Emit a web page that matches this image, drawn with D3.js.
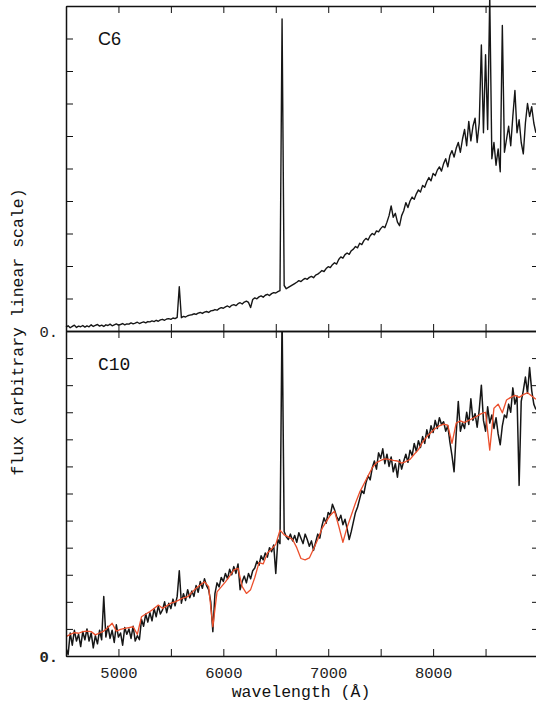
<!DOCTYPE html>
<html>
<head>
<meta charset="utf-8">
<script src="https://cdn.jsdelivr.net/npm/d3@7"></script>
<style>
  html, body { margin: 0; padding: 0; background: #fff; }
  svg { display: block; }
  .axis text { font-family: "Liberation Mono", "DejaVu Sans Mono", monospace; font-size: 15.5px; fill: #222; }
  .axis path, .axis line { stroke: #111; }
</style>
</head>
<body>
<svg id="chart" width="536" height="708"></svg>
<script>
// ---------------- DATA ----------------
// Spectra sampled on a regular wavelength grid (Angstrom)
const specStart = 4500;
const specStep = 20;      // black observed spectra
const modelStep = 40;     // red model spectrum

// C6 observed spectrum (top panel, arbitrary flux units)
const c6Flux = [
  0.12,0.16,0.10,0.14,0.18,0.11,0.15,0.13,0.17,0.12,
  0.16,0.13,0.19,0.14,0.17,0.20,0.15,0.18,0.14,0.19,
  0.17,0.21,0.16,0.19,0.22,0.18,0.20,0.23,0.19,0.22,
  0.21,0.25,0.22,0.24,0.27,0.23,0.26,0.28,0.25,0.29,
  0.28,0.31,0.29,0.33,0.30,0.34,0.36,0.33,0.37,0.38,
  0.36,0.40,0.38,0.42,1.36,0.41,0.45,0.43,0.47,0.49,
  0.50,0.53,0.51,0.55,0.57,0.54,0.58,0.60,0.57,0.62,
  0.63,0.66,0.64,0.69,0.72,0.70,0.74,0.77,0.73,0.79,
  0.81,0.78,0.84,0.87,0.83,0.89,0.92,0.88,0.72,0.97,
  1.02,0.99,1.05,1.08,1.04,1.10,1.13,1.09,1.15,1.18,
  1.17,1.21,1.24,9.60,1.40,1.30,1.34,1.38,1.42,1.46,
  1.50,1.55,1.52,1.58,1.62,1.59,1.65,1.68,1.64,1.72,
  1.75,1.80,1.86,1.83,1.92,1.98,1.95,2.04,2.10,2.06,
  2.20,2.28,2.24,2.35,2.40,2.36,2.47,2.52,2.60,2.56,
  2.70,2.66,2.78,2.85,2.80,2.93,3.00,2.96,3.08,3.05,
  3.15,3.22,3.18,3.35,3.55,3.85,3.50,3.62,3.35,3.24,
  3.55,3.70,3.95,3.80,4.00,4.12,4.05,4.22,4.34,4.28,
  4.48,4.42,4.60,4.72,4.62,4.85,4.78,4.95,5.05,4.92,
  5.15,5.30,5.05,5.40,5.55,5.35,5.62,5.80,5.50,5.90,
  6.20,5.70,6.45,5.85,6.30,6.55,5.80,6.40,8.80,6.10,
  8.50,6.20,10.3,5.30,5.80,5.10,5.60,4.90,9.40,5.50,
  5.90,6.30,5.70,6.60,7.40,6.10,6.50,5.80,5.45,6.40,
  7.00,6.60,6.90,6.40,6.10
];

// C10 observed spectrum (bottom panel, black)
const c10Flux = [
  0.30,0.05,0.85,0.40,0.95,0.55,0.80,0.35,0.90,0.60,
  1.00,0.55,0.85,0.30,0.75,0.45,0.95,0.60,2.20,0.70,
  1.10,0.65,0.95,0.50,1.15,0.70,0.85,0.40,1.05,0.80,
  1.00,0.65,1.10,0.55,0.75,0.60,1.35,1.10,1.55,1.25,
  1.60,1.30,1.75,1.45,1.85,1.55,1.70,2.00,1.60,1.95,
  1.75,2.10,1.85,2.20,3.15,1.95,2.30,2.05,2.45,2.15,
  2.40,2.20,2.60,2.35,2.75,2.50,2.85,2.60,2.45,2.00,
  0.90,2.30,2.70,2.55,2.90,2.75,3.05,2.85,3.20,3.00,
  3.30,3.05,3.40,2.45,2.75,2.95,2.70,3.05,2.85,3.15,
  3.25,3.50,3.35,3.70,3.55,3.80,3.65,4.00,3.85,4.10,
  3.05,4.30,4.15,12.6,4.60,4.40,4.30,4.50,4.25,4.45,
  4.20,4.55,4.35,4.15,4.50,4.30,4.05,4.25,3.90,4.20,
  4.50,4.35,4.80,5.10,4.90,5.30,5.20,5.60,5.40,5.15,
  5.00,5.20,4.85,5.05,4.70,4.30,4.60,4.95,5.30,5.50,
  5.80,6.10,6.00,6.40,6.65,6.50,6.95,7.20,6.90,7.50,
  7.30,7.65,7.10,7.45,7.00,7.35,6.80,7.10,6.60,7.25,
  6.90,7.20,7.45,7.15,7.60,7.40,7.85,7.55,7.95,7.70,
  8.10,7.85,8.35,8.05,8.50,8.25,8.70,8.40,8.80,8.55,
  8.65,8.30,8.50,7.90,7.40,6.80,8.20,9.40,8.30,8.60,
  8.40,9.00,8.55,9.50,8.70,8.95,8.45,9.10,10.0,8.70,
  8.30,9.20,8.60,8.90,8.40,8.80,8.20,7.80,8.50,8.90,
  8.80,9.30,9.00,9.90,9.30,9.60,6.30,9.40,9.80,10.30,
  9.70,10.65,9.80,9.30,9.10
];

// C10 model spectrum (bottom panel, red)
const c10Model = [
  0.71,0.80,0.86,0.84,0.90,0.92,0.90,0.78,0.85,0.92,
  1.05,1.21,0.92,0.98,1.02,1.05,1.08,0.80,1.45,1.55,
  1.64,1.75,1.88,1.76,1.85,1.95,2.00,2.07,2.15,2.19,
  2.35,2.50,2.62,2.74,2.56,1.08,2.37,2.55,2.74,2.95,
  3.18,3.24,2.56,2.31,2.45,2.90,3.45,3.40,3.80,3.95,
  4.12,4.65,4.47,4.40,4.30,4.00,3.60,3.55,3.62,3.95,
  4.30,4.70,4.95,5.20,5.35,4.80,4.20,4.75,5.20,5.65,
  6.05,6.35,6.65,6.95,7.14,7.22,7.28,7.26,7.22,7.20,
  7.12,7.18,7.26,7.45,7.62,7.90,8.10,8.25,8.40,8.50,
  8.56,8.52,7.85,8.60,8.68,8.62,8.70,8.78,8.86,8.95,
  9.00,7.60,9.15,9.30,8.98,9.45,9.55,9.62,9.55,9.65,
  9.72,9.60,9.48
];

// Axis settings
const xDomain = [4500, 9000];
const xTicks = [4500, 5000, 5500, 6000, 6500, 7000, 7500, 8000, 8500, 9000];
const topYMax = 10;     // top panel: 10 tick intervals
const botYMax = 12;     // bottom panel: 12 tick intervals
const panelLabels = ["C6", "C10"];
const xTitle = "wavelength (Å)";
const yTitle = "flux (arbitrary linear scale)";

// ---------------- LAYOUT ----------------
const svg = d3.select("#chart");
const left = 66, right = 538;
const topY0 = 6, midY = 331, botY = 656;

const x = d3.scaleLinear().domain(xDomain).range([left, right]);
const yTop = d3.scaleLinear().domain([0, topYMax]).range([midY, topY0]);
const yBot = d3.scaleLinear().domain([0, botYMax]).range([botY, midY]);

const toPts = (arr, step) => arr.map((v, i) => [specStart + i * step, v]);

// clip for bottom panel
svg.append("defs").append("clipPath").attr("id", "clipBot")
  .append("rect").attr("x", left).attr("y", midY).attr("width", right - left).attr("height", botY - midY);

const lineTop = d3.line().x(d => x(d[0])).y(d => yTop(d[1]));
const lineBot = d3.line().x(d => x(d[0])).y(d => yBot(d[1]));

// spectra
svg.append("path").datum(toPts(c6Flux, specStep))
  .attr("d", lineTop).attr("fill", "none").attr("stroke", "#161616")
  .attr("stroke-width", 1.4).attr("stroke-linejoin", "round");

const gBot = svg.append("g").attr("clip-path", "url(#clipBot)");
gBot.append("path").datum(toPts(c10Flux, specStep))
  .attr("d", lineBot).attr("fill", "none").attr("stroke", "#161616")
  .attr("stroke-width", 1.5).attr("stroke-linejoin", "round");
gBot.append("path").datum(toPts(c10Model, modelStep))
  .attr("d", lineBot).attr("fill", "none").attr("stroke", "#ec4f2c")
  .attr("stroke-width", 1.3).attr("stroke-linejoin", "round");

// ---------------- AXES ----------------
const tick = 7;
function styleAxis(g) {
  g.attr("class", "axis");
  g.selectAll("path.domain").attr("stroke", "#111").attr("stroke-width", 1.5);
  g.selectAll(".tick line").attr("stroke", "#111").attr("stroke-width", 1);
}
// bottom x axis with labels
svg.append("g").attr("transform", `translate(0,${botY})`)
  .call(d3.axisBottom(x).tickValues(xTicks).tickSizeInner(-tick).tickSizeOuter(0).tickPadding(11)
    .tickFormat(d => (d % 1000 === 0 && d > 4500 && d < 9000) ? d : ""))
  .call(styleAxis);
// middle line: ticks up (top panel) and down (bottom panel)
svg.append("g").attr("transform", `translate(0,${midY})`)
  .call(d3.axisBottom(x).tickValues(xTicks).tickSizeInner(-tick).tickSizeOuter(0).tickFormat(""))
  .call(styleAxis);
svg.append("g").attr("transform", `translate(0,${midY})`)
  .call(d3.axisTop(x).tickValues(xTicks).tickSizeInner(-tick).tickSizeOuter(0).tickFormat(""))
  .call(styleAxis);
// top border
svg.append("g").attr("transform", `translate(0,${topY0})`)
  .call(d3.axisTop(x).tickValues(xTicks).tickSizeInner(-tick).tickSizeOuter(0).tickFormat(""))
  .call(styleAxis);

// left y axes
svg.append("g").attr("transform", `translate(${left},0)`)
  .call(d3.axisLeft(yTop).ticks(topYMax).tickSizeInner(-tick).tickSizeOuter(0).tickPadding(8)
    .tickFormat(d => d === 0 ? "0." : ""))
  .call(styleAxis);
const leftBot = svg.append("g").attr("transform", `translate(${left},0)`)
  .call(d3.axisLeft(yBot).ticks(botYMax).tickSizeInner(-tick).tickSizeOuter(0).tickPadding(8)
    .tickFormat(d => d === 0 ? "0." : ""))
  .call(styleAxis);
// right y axes
svg.append("g").attr("transform", `translate(${right},0)`)
  .call(d3.axisRight(yTop).ticks(topYMax).tickSizeInner(-6).tickSizeOuter(0).tickFormat(""))
  .call(styleAxis);
svg.append("g").attr("transform", `translate(${right},0)`)
  .call(d3.axisRight(yBot).ticks(botYMax).tickSizeInner(-6).tickSizeOuter(0).tickFormat(""))
  .call(styleAxis);

svg.selectAll(".axis .tick text").filter(function() { return this.textContent === "0."; })
  .attr("font-size", "16.5px").attr("dy", "0.35em");
leftBot.selectAll(".tick text").attr("font-weight", "bold");

// ---------------- LABELS ----------------
svg.append("text").attr("x", 98).attr("y", 45)
  .attr("font-family", "Liberation Sans, Arial, sans-serif").attr("font-size", 18).attr("fill", "#111")
  .text(panelLabels[0]);
svg.append("text").attr("x", 98).attr("y", 370)
  .attr("font-family", "Liberation Mono, monospace").attr("font-size", 18).attr("fill", "#111")
  .text(panelLabels[1]);

svg.append("text").attr("x", 301).attr("y", 697).attr("text-anchor", "middle")
  .attr("font-family", "Liberation Mono, monospace").attr("font-size", 16.5).attr("fill", "#111")
  .text(xTitle);

svg.append("text").attr("transform", "translate(23,332) rotate(-90)").attr("text-anchor", "middle")
  .attr("font-family", "Liberation Mono, monospace").attr("font-size", 16.5).attr("fill", "#111")
  .text(yTitle);
</script>
</body>
</html>
